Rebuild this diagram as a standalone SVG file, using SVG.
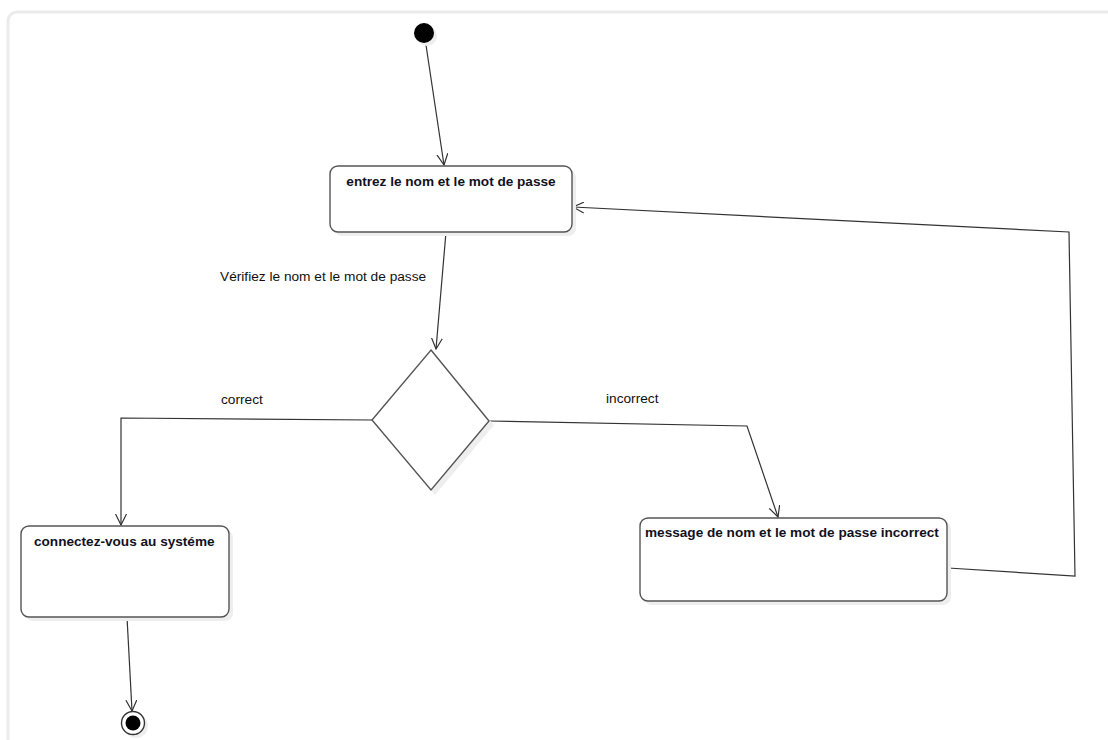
<svg xmlns="http://www.w3.org/2000/svg" width="1108" height="740" viewBox="0 0 1108 740">
  <style>
    .node { fill: #ffffff; stroke: #555555; stroke-width: 1.4; }
    .shadow { fill: #eeeeee; stroke: none; }
    .title { font-family: "Liberation Sans", Arial, sans-serif; font-size: 13.6px; font-weight: bold; fill: #111122; }
    .label { font-family: "Liberation Sans", Arial, sans-serif; font-size: 13.7px; fill: #111111; }
    .edge { fill: none; stroke: #333333; stroke-width: 1.2; }
  </style>
  <defs>
    <marker id="open-arrow" viewBox="0 0 12 12" refX="11" refY="6" markerWidth="12" markerHeight="12" markerUnits="userSpaceOnUse" orient="auto">
      <path d="M0,0.5 L11,6 L0,11.5" fill="none" stroke="#333333" stroke-width="1.2"/>
    </marker>
  </defs>

  <!-- canvas -->
  <rect x="0" y="0" width="1108" height="740" fill="#ffffff"/>
  <rect x="8" y="12" width="1130" height="760" rx="9" fill="#ffffff" stroke="#ebebeb" stroke-width="3"/>

  <!-- connectors -->
  <g id="connectors">
    <line class="edge" x1="426" y1="45" x2="444" y2="165" marker-end="url(#open-arrow)"/>
    <line class="edge" x1="446" y1="232" x2="436" y2="349" marker-end="url(#open-arrow)"/>
    <polyline class="edge" points="372,420 121,418 121,525" marker-end="url(#open-arrow)"/>
    <polyline class="edge" points="489,421 747,426 778,517" marker-end="url(#open-arrow)"/>
    <polyline class="edge" points="948,568 1075,576 1069,232 573,207" marker-end="url(#open-arrow)"/>
    <line class="edge" x1="127" y1="617" x2="132" y2="711" marker-end="url(#open-arrow)"/>
    <text class="label" x="220" y="281">Vérifiez le nom et le mot de passe</text>
    <text class="label" x="221" y="404">correct</text>
    <text class="label" x="606" y="403">incorrect</text>
  </g>

  <!-- initial state -->
  <g id="start">
    <circle cx="427" cy="36" r="10" class="shadow"/>
    <circle cx="424" cy="33" r="10" fill="#000000"/>
  </g>

  <!-- enter credentials -->
  <g id="entrez">
    <rect x="334" y="170" width="242" height="66" rx="8" class="shadow"/>
    <rect x="330" y="166" width="242" height="66" rx="8" class="node"/>
    <text class="title" x="451" y="186" text-anchor="middle">entrez le nom et le mot de passe</text>
  </g>

  <!-- decision -->
  <g id="decision">
    <polygon points="435,355 494,425 435,495 376,425" class="shadow"/>
    <polygon points="431,350 489,421 431,490 372,420" class="node"/>
  </g>

  <!-- success -->
  <g id="connectez">
    <rect x="25" y="530" width="208" height="91" rx="8" class="shadow"/>
    <rect x="21" y="526" width="208" height="91" rx="8" class="node"/>
    <text class="title" x="34" y="546">connectez-vous au systéme</text>
  </g>

  <!-- error message -->
  <g id="message">
    <rect x="644" y="522" width="307" height="83" rx="8" class="shadow"/>
    <rect x="640" y="518" width="307" height="83" rx="8" class="node"/>
    <text class="title" x="645" y="537">message de nom et le mot de passe incorrect</text>
  </g>

  <!-- final state -->
  <g id="end">
    <circle cx="136" cy="726" r="12" class="shadow"/>
    <circle cx="133" cy="723" r="11.5" fill="#ffffff" stroke="#333333" stroke-width="1.4"/>
    <circle cx="133" cy="723" r="7.5" fill="#000000"/>
  </g>
</svg>
